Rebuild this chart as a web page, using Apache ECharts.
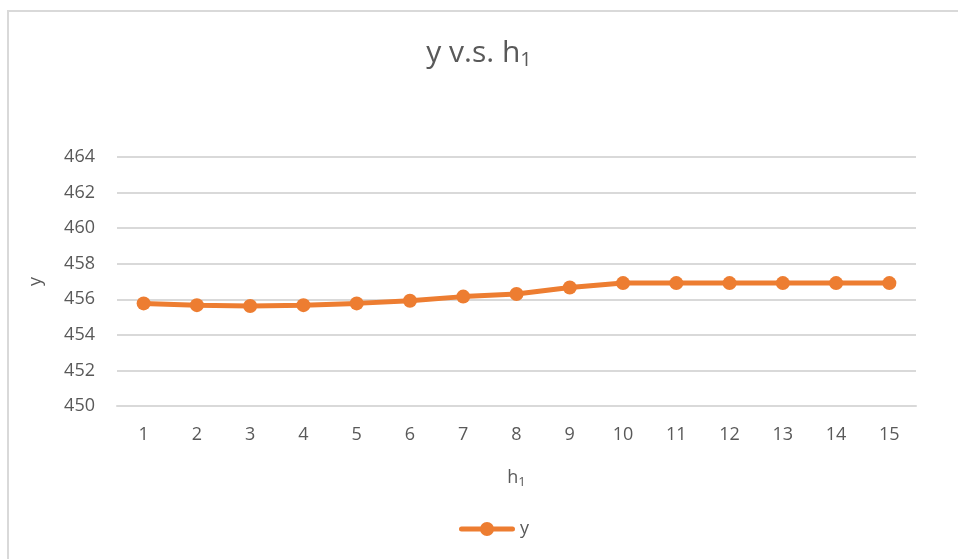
<!DOCTYPE html>
<html><head><meta charset="utf-8">
<script src="https://cdn.jsdelivr.net/npm/echarts@6/dist/echarts.min.js"></script>
<style>html,body{margin:0;padding:0;background:#fff}#c{width:958px;height:559px}</style>
</head><body><div id="c"></div>
<script>
var categories = ['1','2','3','4','5','6','7','8','9','10','11','12','13','14','15'];
var yValues = [455.77, 455.67, 455.62, 455.67, 455.77, 455.92, 456.15, 456.3, 456.66, 456.91, 456.91, 456.91, 456.91, 456.91, 456.91];
var seriesName = 'y';
var FONT = '"Open Sans", "Noto Sans", sans-serif';
var chart = echarts.init(document.getElementById('c'));
chart.setOption({
  animation: false,
  backgroundColor: '#fff',
  textStyle: {fontFamily: FONT},
  title: {
    text: 'y v.s. h{sub|1}',
    left: 'center', top: 32,
    textStyle: {
      fontSize: 30, fontWeight: 'normal', color: '#595959', fontFamily: FONT,
      rich: {sub: {fontSize: 20, color: '#595959', fontFamily: FONT, verticalAlign: 'bottom', padding: [13,0,0,0]}}
    }
  },
  legend: {
    bottom: 16, left: 454,
    itemWidth: 56, itemHeight: 14,
    textStyle: {fontSize: 18, color: '#595959', fontFamily: FONT},
    data: [{name: seriesName, icon: 'path://M2.5,4.5 L53.5,4.5 A2.5,2.5 0 1 1 53.5,9.5 L2.5,9.5 A2.5,2.5 0 1 1 2.5,4.5 Z M21,7 A7,7 0 1 1 35,7 A7,7 0 1 1 21,7 Z'}]
  },
  grid: {left: 117, right: 42, top: 157, bottom: 153},
  xAxis: {
    type: 'category', data: categories, boundaryGap: true,
    name: 'h{sub|1}', nameLocation: 'middle', nameGap: 60,
    nameTextStyle: {fontSize: 18, color: '#595959', fontFamily: FONT,
      rich: {sub: {fontSize: 13, color: '#595959', verticalAlign: 'bottom', padding: [10,0,0,0]}}},
    axisLine: {show: true, lineStyle: {color: '#d9d9d9', width: 2}},
    axisTick: {show: false},
    axisLabel: {fontSize: 18, color: '#595959', margin: 20, fontFamily: FONT}
  },
  yAxis: {
    type: 'value', min: 450, max: 464, interval: 2,
    name: 'y', nameLocation: 'middle', nameGap: 72,
    nameTextStyle: {fontSize: 18, color: '#595959', fontFamily: FONT},
    axisLine: {show: false}, axisTick: {show: false},
    axisLabel: {fontSize: 18, color: '#595959', margin: 22, fontFamily: FONT},
    splitLine: {lineStyle: {color: '#d9d9d9', width: 2}}
  },
  series: [{
    name: seriesName, type: 'line', data: yValues,
    symbol: 'circle', symbolSize: 14,
    lineStyle: {color: '#ED7D31', width: 5},
    itemStyle: {color: '#ED7D31'}
  }],
  graphic: [
    {type: 'line', shape: {x1: 8, y1: 10, x2: 8, y2: 559}, style: {stroke: '#d9d9d9', lineWidth: 2}},
    {type: 'line', shape: {x1: 7, y1: 11, x2: 958, y2: 11}, style: {stroke: '#d9d9d9', lineWidth: 2}}
  ]
});
</script></body></html>
